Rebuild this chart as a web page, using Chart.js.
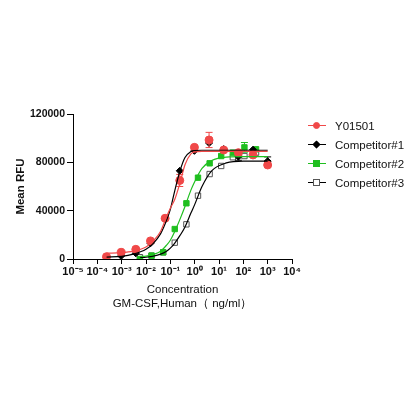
<!DOCTYPE html>
<html lang="en">
<head>
    <meta charset="UTF-8">
    <title>Mean RFU vs Concentration</title>
    <script src="https://cdn.jsdelivr.net/npm/chart.js"></script>
    <style>
        body { margin: 0; background: #fff; font-family: "Liberation Sans", Arial, sans-serif; }
        #wrap { position: relative; width: 419px; height: 419px; }
        #legend { position: absolute; left: 308px; top: 116px; font-size: 11.5px; color: #111; }
        .item { height: 19px; display: flex; align-items: center; }
        .mk { position: relative; width: 18px; height: 10px; margin-right: 9px; }
        .mk .ln { position: absolute; left: 0; right: 0; top: 4px; height: 1.5px; }
        .mk .pt { position: absolute; left: 5px; top: 1px; width: 7px; height: 7px; box-sizing: border-box; }
    </style>
</head>
<body>
<div id="wrap">
    <canvas id="chart" width="419" height="419"></canvas>
    <div id="legend"></div>
</div>
<script>
// x values (ng/ml): 4-fold and 3-fold dilution series
const xFourFold = [0.000238, 0.000954, 0.00381, 0.0153, 0.061, 0.244, 0.977, 3.91, 15.6, 62.5, 250, 1000];
const xThreeFold = [0.00564, 0.0169, 0.0508, 0.152, 0.457, 1.37, 4.12, 12.3, 37.0, 111, 333, 1000];

const seriesNames = ['Y01501', 'Competitor#1', 'Competitor#2', 'Competitor#3'];

// measured means
const y01501 = [1900, 5500, 8000, 15000, 33700, 65000, 92400, 98500, 90200, 88000, 86100, 77800];
const comp1 = [1500, 2500, 4700, 13000, 33000, 73000, 89500, 96000, 91000, 84700, 90500, 81000];
const comp2 = [0, 2800, 5500, 24800, 46100, 67300, 79200, 85200, 88000, 92400, 90800, 78600];
const comp3 = [1500, 2800, 5500, 13500, 28700, 52400, 70300, 77000, 84200, 85200, 88000, 79000];

// error bars (SD), 0 = not visible
const y01501Err = [0, 0, 0, 0, 0, 5000, 0, 6300, 0, 0, 0, 0];
const comp1Err = [0, 0, 0, 0, 0, 0, 0, 0, 0, 3000, 0, 3500];
const comp2Err = [0, 0, 0, 0, 0, 0, 0, 0, 0, 4000, 0, 0];
const comp3Err = [0, 0, 0, 0, 0, 0, 0, 0, 0, 0, 0, 0];

// fitted curves
const fitXa = [0.00024, 0.001, 0.003, 0.01, 0.02, 0.04, 0.07, 0.1, 0.15, 0.25, 0.4, 0.7, 1, 2, 5, 20, 100, 1000];
const fitY01501 = [4800, 5200, 6500, 10000, 15000, 23000, 35000, 42000, 49000, 63000, 78000, 87000, 88500, 89000, 89000, 89000, 89000, 89000];
const fitComp1 = [1600, 2200, 4000, 8000, 13000, 21000, 32000, 41000, 56000, 73000, 84000, 89000, 89800, 90000, 90000, 90000, 90000, 90000];
const fitXb = [0.00564, 0.01, 0.02, 0.04, 0.07, 0.1, 0.15, 0.25, 0.4, 0.7, 1, 2, 5, 20, 100, 1000];
const fitComp2 = [2000, 2400, 3800, 6500, 11500, 15500, 22500, 33000, 43500, 57000, 64000, 75000, 81500, 84300, 84700, 84700];
const fitComp3 = [1300, 1600, 2400, 4000, 6500, 9000, 13000, 19500, 26500, 38000, 45000, 60000, 73000, 79500, 81000, 81000];

const xTicks = [1e-5, 1e-4, 1e-3, 1e-2, 1e-1, 1e0, 1e1, 1e2, 1e3, 1e4];
const yTicks = [0, 40000, 80000, 120000];

const RED = '#f04848', GREEN = '#1fbf1f', BLACK = '#000000', GREY = '#555555';

const sup = { '-': '⁻', '0': '⁰', '1': '¹', '2': '²', '3': '³', '4': '⁴', '5': '⁵', '6': '⁶', '7': '⁷', '8': '⁸', '9': '⁹' };
function decadeLabel(v) {
    const e = String(Math.round(Math.log10(v)));
    return '10' + e.split('').map(c => sup[c]).join('');
}

function pts(xs, ys) { return xs.map((x, i) => ({ x: x, y: ys[i] })); }

function fitSet(xs, ys, color) {
    return { data: pts(xs, ys), borderColor: color, borderWidth: 1.2, pointRadius: 0,
        showLine: true, cubicInterpolationMode: 'monotone', fill: false };
}
function pointSet(xs, ys, errs, color, style, radius, bg) {
    return { data: pts(xs, ys), errors: errs, showLine: false, pointStyle: style,
        pointRadius: radius, pointBackgroundColor: bg, pointBorderColor: color,
        pointBorderWidth: 1, borderColor: color, backgroundColor: bg };
}

const datasets = [
    fitSet(fitXa, fitY01501, RED),
    fitSet(fitXa, fitComp1, BLACK),
    fitSet(fitXb, fitComp2, GREEN),
    fitSet(fitXb, fitComp3, BLACK),
    pointSet(xFourFold, y01501, y01501Err, RED, 'circle', 4, RED),
    pointSet(xFourFold, comp1, comp1Err, BLACK, 'rectRot', 3.5, BLACK),
    pointSet(xThreeFold, comp2, comp2Err, GREEN, 'rect', 3.8, GREEN),
    pointSet(xThreeFold, comp3, comp3Err, GREY, 'rect', 3.8, '#ffffff')
];

// draws SD error bars from the errors arrays
const errorBars = {
    id: 'errorBars',
    beforeDatasetDraw(chart, args) {
        const ds = chart.data.datasets[args.index];
        if (!ds.errors) return;
        const ctx = chart.ctx, xs = chart.scales.x, ys = chart.scales.y;
        ctx.save();
        ctx.strokeStyle = ds.borderColor;
        ctx.lineWidth = 1;
        ds.data.forEach((p, i) => {
            const e = ds.errors[i];
            if (!e) return;
            const px = xs.getPixelForValue(p.x);
            const top = ys.getPixelForValue(p.y + e), bot = ys.getPixelForValue(p.y - e);
            ctx.beginPath();
            ctx.moveTo(px, top); ctx.lineTo(px, bot);
            ctx.moveTo(px - 3.5, top); ctx.lineTo(px + 3.5, top);
            ctx.moveTo(px - 3.5, bot); ctx.lineTo(px + 3.5, bot);
            ctx.stroke();
        });
        ctx.restore();
    }
};

new Chart(document.getElementById('chart'), {
    type: 'scatter',
    data: { datasets: datasets },
    plugins: [errorBars],
    options: {
        responsive: false,
        animation: false,
        layout: { padding: { left: 0, top: 114, right: 127, bottom: 107 } },
        plugins: { legend: { display: false }, tooltip: { enabled: false } },
        scales: {
            x: {
                type: 'logarithmic',
                min: 1e-5, max: 1e4,
                afterBuildTicks: s => { s.ticks = xTicks.map(v => ({ value: v })); },
                afterFit: s => { s.height = 53; },
                grid: { drawOnChartArea: false, color: BLACK, tickLength: 5, tickWidth: 1 },
                border: { color: BLACK, width: 1 },
                ticks: { color: '#111', font: { family: 'Liberation Sans', size: 11, weight: 'bold' },
                    padding: 1, maxRotation: 0, autoSkip: false, callback: v => decadeLabel(v) },
                title: { display: true, text: ['Concentration', 'GM-CSF,Human（ ng/ml）'], color: '#111',
                    font: { family: 'Liberation Sans', size: 11.5 }, padding: { top: 0, bottom: 1 } }
            },
            y: {
                min: 0, max: 120000,
                afterBuildTicks: s => { s.ticks = yTicks.map(v => ({ value: v })); },
                afterFit: s => { s.width = 73; },
                grid: { drawOnChartArea: false, color: BLACK, tickLength: 6, tickWidth: 1 },
                border: { color: BLACK, width: 1 },
                ticks: { color: '#111', font: { family: 'Liberation Sans', size: 10.5, weight: 'bold' },
                    padding: 2, callback: v => String(v) },
                title: { display: true, text: 'Mean RFU', color: '#111',
                    font: { family: 'Liberation Sans', size: 11.5, weight: 'bold' }, padding: { top: 14, bottom: 0 } }
            }
        }
    }
});

// legend: line with marker, like the original
const legendMarks = [
    { color: RED, line: RED, bg: RED, radius: '50%', rot: 0 },
    { color: BLACK, line: BLACK, bg: BLACK, radius: '0', rot: 45 },
    { color: GREEN, line: GREEN, bg: GREEN, radius: '0', rot: 0 },
    { color: GREY, line: BLACK, bg: '#fff', radius: '0', rot: 0 }
];
const legend = document.getElementById('legend');
seriesNames.forEach((name, i) => {
    const m = legendMarks[i];
    const item = document.createElement('div');
    item.className = 'item';
    const scale = m.rot ? 'scale(0.8) ' : '';
    item.innerHTML = '<span class="mk"><span class="ln" style="background:' + m.line + '"></span>' +
        '<span class="pt" style="background:' + m.bg + ';border:1px solid ' + m.color +
        ';border-radius:' + m.radius + ';transform:' + scale + 'rotate(' + m.rot + 'deg)"></span></span>' +
        '<span>' + name + '</span>';
    legend.appendChild(item);
});
</script>
</body>
</html>
